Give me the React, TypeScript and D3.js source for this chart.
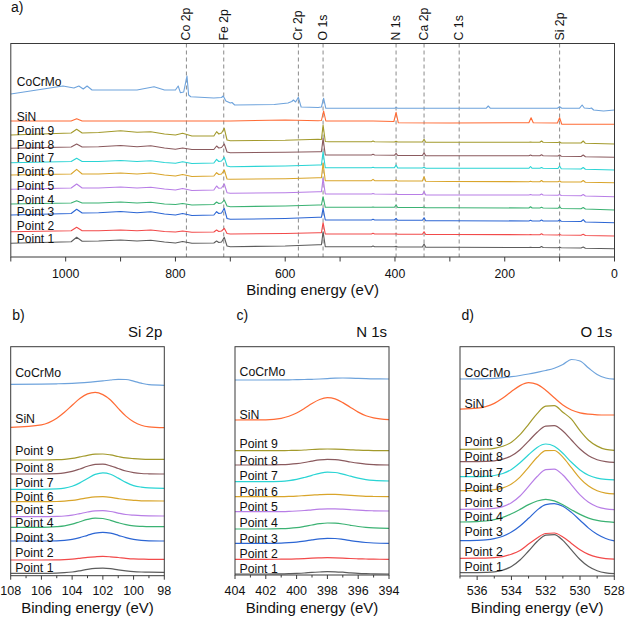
import React from 'react';
import * as d3 from 'd3';

const FONT = "'Liberation Sans', Arial, Helvetica, sans-serif";

const seriesNames = ['CoCrMo', 'SiN', 'Point 9', 'Point 8', 'Point 7', 'Point 6', 'Point 5', 'Point 4', 'Point 3', 'Point 2', 'Point 1'];
const seriesColors = ['#6ea3dc', '#ff6b35', '#a39a2c', '#8a5a5e', '#2ad4d4', '#d9a52b', '#b87ee6', '#3bb273', '#2c66d4', '#f24a4a', '#5c5c5c'];

// ---------- Survey (panel a) ----------
const surveyTickLabels = [1000, 800, 600, 400, 200, 0];
const peakNames = ['Co 2p', 'Fe 2p', 'Cr 2p', 'O 1s', 'N 1s', 'Ca 2p', 'C 1s', 'Si 2p'];
const peakEnergies = [780, 712, 576, 531, 398, 347, 283, 100];

const surveyCoCrMo: [number, number][] = [
  [1100, 163], [1005, 171], [985, 169], [976, 171], [968, 168], [961, 171], [952, 167], [870, 167], [839, 170.3], [820, 167],
  [800, 167], [795, 171], [791, 164.3], [785, 165], [779, 181], [776, 162], [772, 160.3], [730, 159], [716, 159.5], [713, 161],
  [708, 156], [700, 154], [697, 154.5], [692, 152], [620, 152.5], [595, 154], [588, 155.5], [585, 157], [581, 155], [576, 159.7],
  [571, 150], [540, 149.5], [534, 150], [530, 158.7], [526, 148.7], [400, 148.7], [398, 149.5], [395, 148.7], [234, 148.7],
  [230, 151], [226, 148.7], [104, 148.7], [100, 150.3], [96, 148.7], [64, 148.7], [59, 152], [55, 149], [45, 148.5], [42, 149],
  [38, 147], [20, 146], [0, 147],
];
const surveySiN: [number, number][] = [
  [1100, 136], [990, 136], [980, 138.3], [970, 136], [700, 136], [600, 137], [540, 136.3], [534, 136.5], [530, 146], [526, 136],
  [440, 136], [402, 135.5], [398, 144.7], [394, 134.3], [300, 134], [156, 134.3], [152, 139.3], [148, 134.3], [104, 134],
  [100, 139.3], [96, 132.7], [0, 132.7],
];
const pointE = [1100, 990, 980, 970, 940, 900, 870, 845, 820, 800, 787, 770, 730, 725, 721, 716, 711, 706, 700, 600, 540, 534, 531, 527, 520, 443, 440, 437, 401, 398, 395, 350, 347, 344, 300, 156, 153, 150, 136, 133, 130, 103, 100, 97, 61, 57, 53, 0];
const surveyP9 = [122, 124, 127.7, 124, 124.5, 126.3, 124.7, 125.3, 123, 122, 123.7, 121, 121, 125.3, 123, 124, 128.7, 117, 116.3, 116.7, 117.7, 117.5, 132, 115.5, 115.3, 115.3, 116, 115.3, 115, 115.7, 115, 115, 117.7, 114.7, 114.7, 114.7, 115, 114.7, 114.7, 116, 114.7, 114.5, 115, 114, 114, 116, 113.7, 113];
const surveyP8 = [108.7, 110, 113, 110, 110.3, 111.5, 110.3, 111.3, 109, 107.7, 109, 107.5, 107.5, 111, 109, 109.5, 113, 105, 104.3, 104.7, 105.3, 105.3, 118.7, 102, 102, 102, 102.7, 102, 101.7, 103.7, 101.5, 101.5, 104.3, 101.3, 101.3, 101.3, 102, 101.3, 101.3, 102.3, 101.3, 101, 102, 100.7, 100.5, 102, 100.3, 99.7];
const surveyP7 = [94.3, 95.5, 98.7, 95.5, 95.5, 96.5, 95.5, 96.3, 94.5, 93.7, 95.3, 93.5, 94, 97.7, 95.5, 96, 99.7, 91, 90.3, 91, 92, 92, 105.3, 89.3, 89.3, 89.3, 89.7, 89.3, 89.3, 92, 89, 89, 89.7, 88.7, 88.7, 88.7, 90.5, 88.7, 88.7, 89.5, 88.7, 88.5, 91, 88.3, 88, 89.5, 87.7, 87];
const surveyP6 = [82, 83, 87.7, 83, 83, 84, 83, 84, 82, 81, 82.5, 80.5, 81, 84.3, 82.5, 83, 87, 78, 77.7, 78.3, 79.3, 79.3, 93.7, 76.3, 76.3, 76.3, 77.7, 76.3, 76.3, 77, 76, 76, 80.3, 75.7, 75.5, 75.3, 75.7, 75.3, 75.3, 76.5, 75.3, 75.3, 76, 75, 75, 76.5, 74.7, 74.3];
const surveyP5 = [67.7, 69, 73, 69, 69, 70, 69, 69.7, 68, 67, 68.5, 66.5, 67, 71, 68.7, 69, 73, 64.3, 63.7, 64.3, 65.3, 65.3, 78.7, 63, 63, 63, 63.5, 63, 62.7, 63.3, 62.5, 62.5, 65.3, 62, 62, 62, 62.5, 62, 62, 63, 62, 61.7, 62.5, 61.5, 61.3, 62.5, 61, 60.3];
const surveyP4 = [53, 54, 56.3, 54, 54, 55, 54, 54.7, 53, 52.5, 53.5, 52, 52.5, 55, 53.5, 54, 57, 51, 50.3, 51, 52, 52, 60.3, 49.7, 49.7, 49.7, 50, 49.7, 49.7, 52, 49.5, 49.5, 50, 49.3, 49.3, 49, 50.3, 49, 49, 49.7, 49, 48.7, 50.3, 48.5, 48.3, 49.5, 48, 47];
const surveyP3 = [42, 43.5, 47.7, 44, 44.3, 45.5, 44.3, 45.3, 43, 42, 43.5, 41.5, 42, 45.3, 43.5, 44, 48.7, 38.5, 37.7, 38.5, 39.7, 39.7, 48.7, 37, 37, 37, 37.7, 37, 37, 38.7, 36.7, 36.7, 39.3, 36.3, 36.3, 36, 36.7, 36, 36, 37, 36, 36, 37, 35.7, 35.5, 37.3, 35, 34.3];
const surveyP2 = [25.3, 26.3, 29.7, 26.3, 26.3, 27, 26.3, 27, 25.5, 25, 26, 24.7, 25, 27, 25.5, 26, 28.7, 23.5, 23, 23.5, 24.3, 24.3, 34.3, 23, 23, 23, 23.7, 23, 23, 23.3, 22.8, 22.8, 25.3, 22.5, 22.5, 22.3, 22.5, 22.3, 22.3, 23.3, 22.3, 22, 22.5, 22, 21.7, 22.7, 21.5, 21];
const surveyP1 = [13.7, 15.3, 19.7, 15.7, 16, 17, 16, 16.7, 15, 14, 15.5, 13.7, 14, 16, 14.5, 15, 19.7, 11, 10.3, 11, 12.3, 12.3, 25.3, 10.3, 10.3, 10.3, 11, 10.3, 10.3, 10.7, 10, 10, 13, 9.7, 9.7, 9.5, 9.7, 9.5, 9.5, 10.5, 9.5, 9.3, 9.7, 9.3, 9, 10, 8.7, 8.3];
const surveyLabelI = [171, 136, 122.5, 108, 94.7, 81.3, 67, 53.3, 41.3, 27, 13.7];

// ---------- Si 2p (panel b) ----------
const siE = [108, 106, 105, 104.5, 104, 103.5, 103, 102.5, 102, 101.5, 101, 100.5, 100, 99.5, 99, 98];
const siCoCrMo = [191.4, 191.6, 191.9, 192.1, 192.4, 192.8, 193.3, 194, 194.8, 195.7, 196.4, 196.2, 194.6, 192.5, 191, 190.4];
const siSiN = [148.4, 150.9, 157.5, 163.4, 170.4, 177.1, 181.8, 183.4, 181.1, 175.7, 167.3, 159.6, 154.0, 150.5, 148.9, 148.0];
const siP9 = [115.7, 115.7, 116.0, 116.4, 117.3, 118.8, 120.4, 121.5, 121.7, 120.8, 119.2, 117.8, 117.1, 116.6, 116.4, 116.4];
const siP8 = [101.7, 101.7, 102.1, 102.8, 104.3, 106.7, 109.4, 111.3, 111.5, 109.9, 107.2, 104.7, 103.1, 102.2, 101.9, 101.7];
const siP7 = [86.4, 86.4, 86.8, 87.6, 89.5, 92.8, 97.2, 101.3, 102.9, 101.5, 97.6, 93.3, 90.1, 88.6, 87.8, 87.4];
const siP6 = [74, 74, 74.2, 74.6, 75.3, 76.5, 77.9, 78.8, 79.0, 78.4, 77.1, 76.0, 75.4, 74.9, 74.8, 74.7];
const siP5 = [59, 59, 59.3, 59.7, 60.6, 62.1, 63.7, 64.8, 65.0, 64.2, 62.6, 61.2, 60.5, 60, 59.8, 59.7];
const siP4 = [48.4, 48.4, 49.0, 49.8, 51.6, 54.0, 56.3, 57.5, 57.2, 55.3, 53.0, 51.0, 49.8, 49.3, 49, 49];
const siP3 = [34.7, 34.7, 34.9, 35.4, 36.4, 38.1, 40.4, 42.5, 43.4, 42.5, 40.4, 38.1, 36.4, 35.4, 34.9, 34.7];
const siP2 = [15.7, 15.7, 15.8, 16.1, 16.6, 17.4, 18.3, 18.9, 19.3, 18.9, 18.2, 17.4, 16.8, 16.6, 16.4, 16.4];
const siP1 = [2.4, 2.4, 2.6, 3.0, 3.7, 4.9, 6.3, 7.3, 7.6, 7.1, 5.9, 4.9, 4.1, 3.7, 3.5, 3.4];
const siLabelI = [199, 152.4, 120.7, 104, 89, 75, 61.3, 49, 34, 18.4, 4];
const siTicks = [108, 106, 104, 102, 100, 98];

// ---------- N 1s (panel c) ----------
const nE = [404, 402, 401, 400.5, 400, 399.5, 399, 398.5, 398, 397.5, 397, 396.5, 396, 395.5, 395, 394];
const nCoCrMo = [195, 195, 195.1, 195.2, 195.3, 195.5, 195.7, 196, 196.4, 196.8, 197, 196.9, 196.6, 196.3, 196.1, 196];
const nSiN = [155, 155.2, 156.7, 158.7, 162, 166.5, 171.5, 175.5, 177.3, 176.1, 172.4, 167.6, 162.9, 159.3, 157.1, 155.3];
const nP9 = [124.3, 124.3, 124.4, 124.5, 124.7, 125.0, 125.5, 125.8, 126.0, 125.9, 125.6, 125.2, 124.8, 124.6, 124.4, 124.3];
const nP8 = [110, 110, 110.3, 110.7, 111.4, 112.5, 113.9, 115.1, 115.7, 115.4, 114.4, 113.0, 111.8, 110.9, 110.4, 110];
const nP7 = [93.3, 93.3, 93.7, 94.4, 95.6, 97.5, 99.7, 101.7, 102.8, 102.5, 100.8, 98.8, 96.8, 95.4, 94.6, 94];
const nP6 = [78.3, 78.3, 78.4, 78.6, 78.9, 79.4, 79.9, 80.4, 80.7, 80.6, 80.1, 79.6, 79.1, 78.7, 78.5, 78.3];
const nP5 = [63.3, 63.3, 63.4, 63.6, 64.0, 64.5, 65.2, 65.8, 66.2, 66.2, 65.8, 65.3, 64.8, 64.4, 64.2, 64];
const nP4 = [46, 46, 46.3, 46.7, 47.4, 48.6, 50.0, 51.3, 52.0, 51.8, 51.0, 49.7, 48.5, 47.6, 47.1, 46.7];
const nP3 = [31.7, 31.7, 31.9, 32.3, 32.9, 33.9, 35.1, 36.2, 36.7, 36.5, 35.6, 34.4, 33.3, 32.5, 32.0, 31.7];
const nP2 = [15.7, 15.7, 15.8, 15.9, 16.1, 16.4, 16.8, 17.1, 17.3, 17.2, 16.9, 16.5, 16.2, 16.0, 15.8, 15.7];
const nP1 = [1, 1, 1.1, 1.3, 1.6, 2.0, 2.6, 3.0, 3.3, 3.2, 2.8, 2.2, 1.7, 1.4, 1.2, 1.0];
const nLabelI = [199, 155.7, 126.7, 110, 95, 79.3, 64, 48.3, 32.3, 17.3, 2.3];
const nTicks = [404, 402, 400, 398, 396, 394];

// ---------- O 1s (panel d) ----------
const oE = [537, 536, 535.5, 535, 534.5, 534, 533.5, 533, 532.5, 532, 531.5, 531, 530.5, 530, 529.5, 529, 528.5, 528];
const oCoCrMo = [197, 197.1, 197.3, 197.7, 198.4, 199.3, 200.5, 202, 203.7, 205.5, 207.8, 211.5, 216.5, 215, 208, 201.5, 198, 196.8];
const oSiN = [166.8, 167.8, 169.4, 172.6, 177.9, 184.5, 190.4, 193.3, 191.6, 185.8, 178.2, 171.0, 166.0, 163.1, 161.8, 161.2, 161, 161];
const oP9 = [126.7, 126.8, 127.0, 127.7, 129.7, 133.8, 141.3, 151.6, 162.4, 169.8, 170.4, 163.8, 156.8, 145.4, 135.8, 129.9, 126.6, 125.7];
const oP8 = [114.3, 114.4, 114.6, 115.2, 116.8, 120.2, 126.3, 134.9, 143.8, 149.9, 150.4, 145.0, 136.0, 127.0, 120.3, 116.3, 114.3, 113.6];
const oP7 = [99.3, 99.4, 99.7, 100.5, 102.5, 106.6, 113.2, 121.2, 128.6, 132.0, 129.7, 122.7, 113.7, 106.1, 100.8, 97.9, 96.6, 96.2];
const oP6 = [85.3, 85.4, 85.6, 86.3, 88.1, 92.0, 98.9, 108.7, 118.7, 125.4, 125.5, 118.9, 108.3, 97.7, 89.9, 85.2, 82.9, 82.1];
const oP5 = [66.7, 66.8, 67.0, 67.6, 69.4, 73.3, 80.0, 89.6, 99.5, 106.4, 106.9, 101.0, 91.2, 81.1, 73.7, 69.3, 67.2, 66.4];
const oP4 = [54, 54.4, 55.0, 56.3, 58.6, 62.2, 66.6, 71.4, 75.0, 76.7, 75.1, 71.3, 66.3, 61.6, 57.9, 55.6, 54.3, 53.7];
const oP3 = [35.3, 35.6, 36.1, 37.4, 39.8, 43.9, 50.0, 57.7, 65.9, 71.4, 72.3, 69.7, 63.6, 55.8, 47.9, 41.7, 37.5, 35.1];
const oP2 = [17.7, 17.8, 17.9, 18.3, 19.4, 21.8, 25.5, 31.9, 38.1, 42.5, 43.0, 39.0, 32.6, 26.3, 21.6, 18.8, 17.4, 16.9];
const oP1 = [3.3, 3.4, 3.6, 4.2, 5.9, 9.5, 16.0, 25.0, 34.5, 40.9, 41.4, 35.6, 26.1, 16.5, 9.4, 5.2, 3.1, 2.4];
const oLabelI = [198.7, 167.7, 130.3, 115, 99.3, 84.3, 69.3, 55.3, 40, 20, 5.3];
const oTicks = [536, 534, 532, 530, 528];

const AXIS = '#3a3a3a';

function SurveyPanel() {
  const left = 10.8, right = 614.5, top = 43.5, bottom = 257;
  const x = d3.scaleLinear().domain([1100, 0]).range([left, right]);
  const y = d3.scaleLinear().domain([0, bottom - top]).range([bottom, top]);
  const line = d3.line<[number, number]>().x(d => x(d[0])).y(d => y(d[1]));
  const pointSeries = [surveyP9, surveyP8, surveyP7, surveyP6, surveyP5, surveyP4, surveyP3, surveyP2, surveyP1];
  const all: [number, number][][] = [
    surveyCoCrMo,
    surveySiN,
    ...pointSeries.map(vals => pointE.map((e, i) => [e, vals[i]] as [number, number])),
  ];
  const minor = d3.range(0, 1101, 100);
  return (
    <g>
      <text x={11} y={12} fontSize={14} fontFamily={FONT} fill="#111">a)</text>
      {peakEnergies.map((e, i) => (
        <g key={'pk' + i}>
          <line x1={x(e)} x2={x(e)} y1={top} y2={bottom} stroke="#8a8a8a" strokeWidth={1} strokeDasharray="4,3" />
          <text transform={`translate(${x(e) + 4},${top - 3}) rotate(-90)`} fontSize={12.3} fontFamily={FONT} fill="#111">{peakNames[i]}</text>
        </g>
      ))}
      {all.map((s, i) => (
        <path key={'s' + i} d={line(s) || ''} fill="none" stroke={seriesColors[i]} strokeWidth={1.1} strokeLinejoin="round" />
      ))}
      {seriesNames.map((n, i) => (
        <text key={'l' + i} x={left + 6} y={y(surveyLabelI[i])} fontSize={12} fontFamily={FONT} fill="#111">{n}</text>
      ))}
      <rect x={left} y={top} width={right - left} height={bottom - top} fill="none" stroke={AXIS} strokeWidth={1} />
      {minor.map(t => (
        <line key={'t' + t} x1={x(t)} x2={x(t)} y1={bottom} y2={bottom + 4.5} stroke={AXIS} strokeWidth={1} />
      ))}
      {surveyTickLabels.map(t => (
        <text key={'tl' + t} x={x(t)} y={278} textAnchor="middle" fontSize={12.3} fontFamily={FONT} fill="#111">{t}</text>
      ))}
      <text x={(left + right) / 2} y={295} textAnchor="middle" fontSize={15} fontFamily={FONT} fill="#111">Binding energy (eV)</text>
    </g>
  );
}

interface HiProps {
  left: number; right: number; top: number; bottom: number;
  domain: [number, number]; energies: number[]; series: number[][]; labelI: number[];
  ticks: number[]; letter: string; title: string;
}

function HiResPanel(p: HiProps) {
  const { left, right, top, bottom, domain, energies, series, labelI, ticks, letter, title } = p;
  const x = d3.scaleLinear().domain(domain).range([left, right]);
  const y = d3.scaleLinear().domain([0, bottom - top]).range([bottom, top]);
  const line = d3.line<number>().x((_, i) => x(energies[i])).y(d => y(d)).curve(d3.curveMonotoneX);
  const lo = Math.min(domain[0], domain[1]);
  const hi = Math.max(domain[0], domain[1]);
  const minor = d3.range(Math.ceil(lo), Math.floor(hi) + 1, 1).filter(v => !ticks.includes(v));
  return (
    <g>
      <text x={left + 1.5} y={320} fontSize={14} fontFamily={FONT} fill="#111">{letter}</text>
      <text x={right - 2} y={336.5} textAnchor="end" fontSize={15} fontFamily={FONT} fill="#111">{title}</text>
      {series.map((s, i) => (
        <path key={'s' + i} d={line(s) || ''} fill="none" stroke={seriesColors[i]} strokeWidth={1.2} />
      ))}
      {seriesNames.map((n, i) => (
        <text key={'l' + i} x={left + 4.5} y={y(labelI[i])} fontSize={12.3} fontFamily={FONT} fill="#111">{n}</text>
      ))}
      <rect x={left} y={top} width={right - left} height={bottom - top} fill="none" stroke={AXIS} strokeWidth={1} />
      {ticks.map(t => (
        <line key={'t' + t} x1={x(t)} x2={x(t)} y1={bottom} y2={bottom + 4} stroke={AXIS} strokeWidth={1} />
      ))}
      {minor.map(t => (
        <line key={'m' + t} x1={x(t)} x2={x(t)} y1={bottom} y2={bottom + 2.5} stroke={AXIS} strokeWidth={1} />
      ))}
      {ticks.map(t => (
        <text key={'tl' + t} x={x(t)} y={595} textAnchor="middle" fontSize={12.5} fontFamily={FONT} fill="#111">{t}</text>
      ))}
      <text x={(left + right) / 2} y={613} textAnchor="middle" fontSize={15} fontFamily={FONT} fill="#111">Binding energy (eV)</text>
    </g>
  );
}

export default function App() {
  return (
    <svg width={626} height={621} style={{ position: 'absolute', left: 0, top: 0, background: '#fff' }}>
      <rect x={0} y={0} width={626} height={621} fill="#fff" />
      <SurveyPanel />
      <HiResPanel left={10.7} right={164.3} top={346.7} bottom={575.7} domain={[108, 98]} energies={siE}
        series={[siCoCrMo, siSiN, siP9, siP8, siP7, siP6, siP5, siP4, siP3, siP2, siP1]} labelI={siLabelI}
        ticks={siTicks} letter="b)" title="Si 2p" />
      <HiResPanel left={235} right={389} top={346.7} bottom={575} domain={[404, 394]} energies={nE}
        series={[nCoCrMo, nSiN, nP9, nP8, nP7, nP6, nP5, nP4, nP3, nP2, nP1]} labelI={nLabelI}
        ticks={nTicks} letter="c)" title="N 1s" />
      <HiResPanel left={460} right={614.3} top={346.7} bottom={576} domain={[537, 528]} energies={oE}
        series={[oCoCrMo, oSiN, oP9, oP8, oP7, oP6, oP5, oP4, oP3, oP2, oP1]} labelI={oLabelI}
        ticks={oTicks} letter="d)" title="O 1s" />
    </svg>
  );
}
